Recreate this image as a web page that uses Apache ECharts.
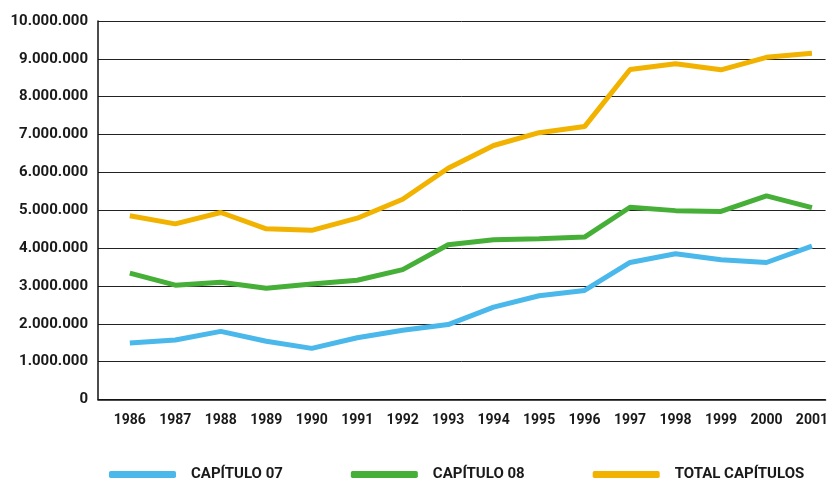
<!DOCTYPE html>
<html>
<head>
<meta charset="utf-8">
<script src="https://cdn.jsdelivr.net/npm/echarts@6/dist/echarts.min.js"></script>
<style>
html,body{margin:0;padding:0;background:#fff;}
#chart{width:831px;height:483px;}
</style>
</head>
<body>
<div id="chart"></div>
<script>
var years = [1986,1987,1988,1989,1990,1991,1992,1993,1994,1995,1996,1997,1998,1999,2000,2001];
var capitulo07 = [1490000,1570000,1800000,1540000,1350000,1630000,1830000,1980000,2440000,2740000,2880000,3620000,3850000,3690000,3620000,4050000];
var capitulo08 = [3340000,3020000,3100000,2940000,3050000,3150000,3430000,4090000,4220000,4250000,4290000,5080000,4990000,4970000,5380000,5070000];
var totalCapitulos = [4855000,4640000,4940000,4510000,4470000,4790000,5290000,6110000,6710000,7050000,7210000,8720000,8870000,8710000,9040000,9150000];
var seriesNames = ['CAPÍTULO 07','CAPÍTULO 08','TOTAL CAPÍTULOS'];
var colors = ['#4AB8EA','#46AF37','#F2B200'];

function pairs(vals){ return years.map(function(y,i){ return [y, vals[i]]; }); }
function fmt(v){ return String(v).replace(/\B(?=(\d{3})+(?!\d))/g,'.'); }

var chart = echarts.init(document.getElementById('chart'));
var font = 'Roboto';
chart.setOption({
  animation:false,
  backgroundColor:'#fff',
  grid:{left:98, right:0, top:21, bottom:83.5, containLabel:false},
  xAxis:{
    type:'value', min:1985.3, max:2001.3,
    axisLine:{show:true, lineStyle:{color:'#111', width:1.5}},
    axisTick:{show:false},
    splitLine:{show:false},
    axisLabel:{customValues:years, margin:14, color:'#1a1a1a', fontFamily:font, fontWeight:'bold', fontSize:14,
      formatter:function(v){return String(v);}}
  },
  yAxis:{
    type:'value', min:0, max:10000000, interval:1000000,
    axisLine:{show:true, lineStyle:{color:'#111', width:1.5}},
    axisTick:{show:false},
    splitLine:{show:true, lineStyle:{color:'#222', width:1}},
    axisLabel:{margin:10, color:'#1a1a1a', fontFamily:font, fontWeight:'bold', fontSize:15, formatter:fmt}
  },
  legend:{
    left:104, top:462,
    itemWidth:67, itemHeight:7, itemGap:68,
    icon:'roundRect',
    textStyle:{color:'#1a1a1a', fontFamily:font, fontWeight:'bold', fontSize:15, padding:[0,0,0,10]},
    data:seriesNames
  },
  series:[
    {name:seriesNames[0], type:'line', data:pairs(capitulo07), symbol:'none', color:colors[0], lineStyle:{width:5, color:colors[0]}},
    {name:seriesNames[1], type:'line', data:pairs(capitulo08), symbol:'none', color:colors[1], lineStyle:{width:5, color:colors[1]}},
    {name:seriesNames[2], type:'line', data:pairs(totalCapitulos), symbol:'none', color:colors[2], lineStyle:{width:5, color:colors[2]}}
  ]
});
</script>
</body>
</html>
